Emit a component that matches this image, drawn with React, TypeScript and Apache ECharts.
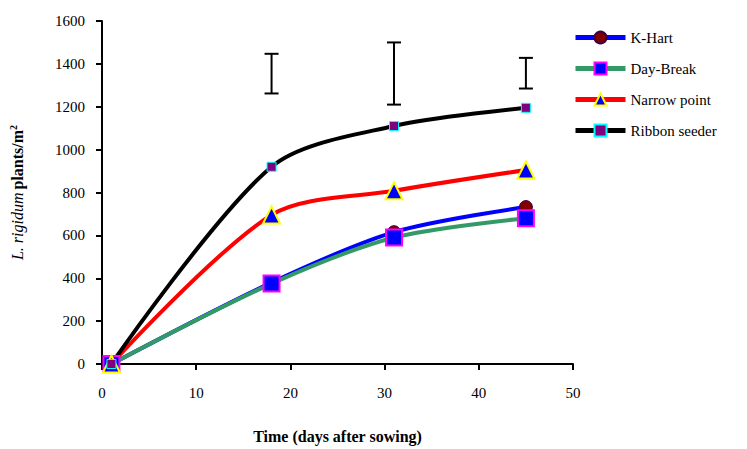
import React, { useEffect, useRef } from "react";
import * as echarts from "echarts";

const days = [1, 18, 31, 45];
const kHart = [0, 380, 615, 732];
const dayBreak = [0, 375, 590, 680];
const narrowPoint = [0, 695, 808, 905];
const ribbonSeeder = [0, 920, 1110, 1195];
// [day, low, high]
const errorBars = [
  [18, 1262, 1447],
  [31, 1210, 1500],
  [45, 1285, 1428],
];
const seriesNames = ["K-Hart", "Day-Break", "Narrow point", "Ribbon seeder"];

const FONT = "Liberation Serif";

export default function App() {
  const ref = useRef<HTMLDivElement>(null);
  useEffect(() => {
    if (!ref.current) return;
    const chart = echarts.init(ref.current, null, { renderer: "svg" });
    const pair = (vals: number[]) => days.map((d, i) => [d, vals[i]]);
    const lineBase = (name: string, vals: number[], color: string) => ({
      name,
      type: "line",
      data: pair(vals),
      smooth: 0.3,
      lineStyle: { color, width: 4 },
      itemStyle: { color },
      z: 2,
    });
    chart.setOption({
      animation: false,
      backgroundColor: "#ffffff",
      textStyle: { fontFamily: FONT },
      grid: { left: 102, right: 174, top: 21, bottom: 83, containLabel: false },
      legend: {
        data: seriesNames,
        orient: "vertical",
        left: 568,
        top: 25,
        itemGap: 16,
        itemWidth: 50,
        itemHeight: 15,
        lineStyle: { width: 5 },
        textStyle: { fontFamily: FONT, fontSize: 15, color: "#000" },
      },
      xAxis: {
        type: "value",
        min: 0,
        max: 50,
        interval: 10,
        name: "Time (days after sowing)",
        nameLocation: "middle",
        nameGap: 64,
        nameTextStyle: { fontFamily: FONT, fontSize: 16, fontWeight: "bold", color: "#000" },
        axisLine: { show: true, lineStyle: { color: "#000", width: 2 } },
        axisTick: { show: true, inside: false, length: 6, lineStyle: { color: "#000", width: 2 } },
        axisLabel: { fontFamily: FONT, fontSize: 15, color: "#000", margin: 21 },
        splitLine: { show: false },
      },
      yAxis: {
        type: "value",
        min: 0,
        max: 1600,
        interval: 200,
        name: "{i|L. rigidum} {b|plants/m}{s|2}",
        nameLocation: "middle",
        nameRotate: 90,
        nameGap: 76,
        nameTextStyle: {
          fontFamily: FONT,
          rich: {
            i: { fontFamily: FONT, fontSize: 16, fontStyle: "italic", color: "#000" },
            b: { fontFamily: FONT, fontSize: 16, fontWeight: "bold", color: "#000" },
            s: { fontFamily: FONT, fontSize: 10, fontWeight: "bold", color: "#000", verticalAlign: "top", padding: [0, 0, 8, 0] },
          },
        },
        axisLine: { show: true, lineStyle: { color: "#000", width: 2 } },
        axisTick: { show: true, inside: false, length: 6, lineStyle: { color: "#000", width: 2 } },
        axisLabel: {
          fontFamily: FONT,
          fontSize: 15,
          color: "#000",
          margin: 17,
          formatter: (v: number) => String(v),
        },
        splitLine: { show: false },
      },
      series: [
        {
          ...lineBase("K-Hart", kHart, "#0000ff"),
          symbol: "circle",
          symbolSize: 13,
          itemStyle: { color: "#800000", borderColor: "#400040", borderWidth: 1 },
        },
        {
          ...lineBase("Day-Break", dayBreak, "#339966"),
          symbol: "rect",
          symbolSize: 16,
          itemStyle: { color: "#0000ff", borderColor: "#ff00ff", borderWidth: 2 },
        },
        {
          ...lineBase("Narrow point", narrowPoint, "#ff0000"),
          symbol: "triangle",
          symbolSize: 17,
          itemStyle: { color: "#0000ff", borderColor: "#ffff00", borderWidth: 2 },
        },
        {
          ...lineBase("Ribbon seeder", ribbonSeeder, "#000000"),
          symbol: "rect",
          symbolSize: 9,
          itemStyle: { color: "#800080", borderColor: "#00ffff", borderWidth: 1 },
        },
        {
          name: "LSD",
          type: "custom",
          data: errorBars,
          z: 3,
          renderItem: (params: any, api: any) => {
            const x = api.value(0);
            const lo = api.coord([x, api.value(1)]);
            const hi = api.coord([x, api.value(2)]);
            const cap = 7;
            const style = { stroke: "#000", lineWidth: 2 };
            return {
              type: "group",
              children: [
                { type: "line", shape: { x1: lo[0], y1: lo[1], x2: hi[0], y2: hi[1] }, style },
                { type: "line", shape: { x1: lo[0] - cap, y1: lo[1], x2: lo[0] + cap, y2: lo[1] }, style },
                { type: "line", shape: { x1: hi[0] - cap, y1: hi[1], x2: hi[0] + cap, y2: hi[1] }, style },
              ],
            };
          },
        },
      ],
    });
    return () => chart.dispose();
  }, []);
  return (
    <div
      ref={ref}
      style={{ position: "fixed", left: 0, top: 0, width: 747, height: 449, background: "#fff" }}
    />
  );
}
